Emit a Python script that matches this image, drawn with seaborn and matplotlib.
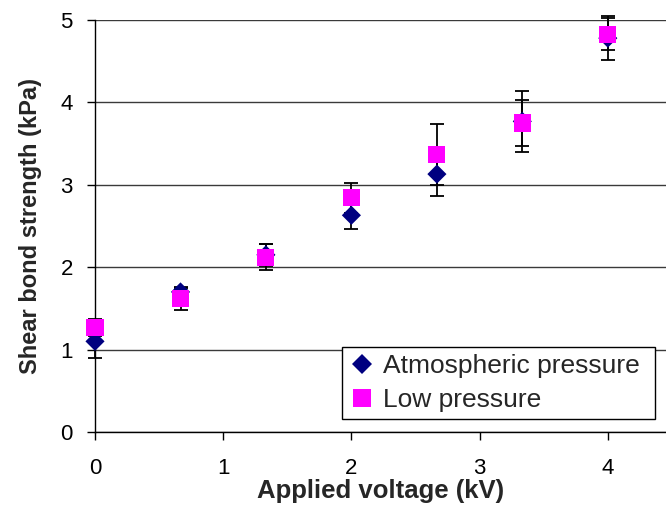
import matplotlib
matplotlib.use("Agg")
import matplotlib.pyplot as plt
import seaborn as sns
import pandas as pd
import numpy as np

voltage = [0, 0.667, 1.333, 2.0, 2.667, 3.333, 4.0]
atm_mean = [1.10, 1.70, 2.15, 2.63, 3.13, 3.77, 4.78]
atm_err = [0.20, 0.05, 0.13, 0.17, 0.27, 0.37, 0.27]
low_mean = [1.27, 1.62, 2.12, 2.84, 3.37, 3.75, 4.83]
low_err = [0.10, 0.14, 0.16, 0.18, 0.37, 0.28, 0.20]
series_names = ["Atmospheric pressure", "Low pressure"]
colors = ["#000080", "#FF00FF"]

sns.set_theme(style="white")
plt.rcParams["font.family"] = ["Liberation Sans", "DejaVu Sans"]

df = pd.DataFrame({
    "Applied voltage (kV)": voltage * 2,
    "Shear bond strength (kPa)": atm_mean + low_mean,
    "err": atm_err + low_err,
    "series": [series_names[0]] * len(voltage) + [series_names[1]] * len(voltage),
})

fig = plt.figure(figsize=(6.66, 5.05), dpi=100)
ax = fig.add_axes([95 / 666, 73 / 505, 571 / 666, 412 / 505])

# error bars beneath markers
for name in series_names:
    sub = df[df["series"] == name]
    cont = ax.errorbar(sub["Applied voltage (kV)"], sub["Shear bond strength (kPa)"],
                       yerr=sub["err"], fmt="none", ecolor="black", elinewidth=1.3,
                       capsize=4.7, capthick=1.3, zorder=2)
    for art in cont.lines:
        if isinstance(art, tuple):
            for a in art:
                a.set_clip_on(False)
        elif art is not None:
            art.set_clip_on(False)

sns.scatterplot(data=df, x="Applied voltage (kV)", y="Shear bond strength (kPa)",
                hue="series", style="series", size="series",
                palette=dict(zip(series_names, colors)),
                markers={series_names[0]: "D", series_names[1]: "s"},
                sizes={series_names[0]: 95, series_names[1]: 150},
                linewidth=0, ax=ax, zorder=3, legend=True)
for coll in ax.collections:
    coll.set_clip_on(False)

ax.set_xlim(0, 571 / 128.2)
ax.set_ylim(0, 5)
ax.set_xticks([0, 1, 2, 3, 4])
ax.set_yticks([0, 1, 2, 3, 4, 5])
ax.yaxis.grid(True, color="#3a3a3a", linewidth=1.0)
ax.xaxis.grid(False)
ax.set_axisbelow(True)
for s in ["top", "right"]:
    ax.spines[s].set_visible(False)
for s in ["left", "bottom"]:
    ax.spines[s].set_color("black")
    ax.spines[s].set_linewidth(1.0)
ax.tick_params(axis="both", direction="out", length=6, width=1.0, color="black",
               labelsize=16, labelcolor="black", bottom=True, left=True)
ax.tick_params(axis="x", pad=13)
ax.tick_params(axis="y", pad=10)
ax.set_xlabel("Applied voltage (kV)", fontsize=18.5, fontweight="bold", labelpad=0)
ax.set_ylabel("Shear bond strength (kPa)", fontsize=17, fontweight="bold", labelpad=13)

handles, labels = ax.get_legend_handles_labels()
leg = ax.legend(handles, labels, loc="lower left",
                bbox_to_anchor=(247 / 571, 13 / 412, 313 / 571, 74 / 412), mode="expand",
                fontsize=19, frameon=True, fancybox=False, framealpha=1,
                edgecolor="black", handletextpad=0.3, borderpad=0.25,
                labelspacing=0.4, handlelength=1.0, borderaxespad=0)
leg.get_frame().set_linewidth(1.0)

fig.savefig("out.png", dpi=100)
